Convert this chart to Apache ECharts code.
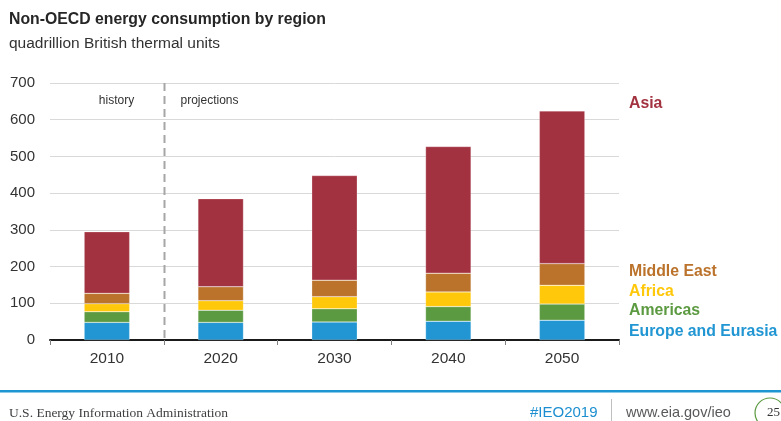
<!DOCTYPE html>
<html>
<head>
<meta charset="utf-8">
<script src="https://cdn.jsdelivr.net/npm/echarts@6/dist/echarts.min.js"></script>
<style>
html,body{margin:0;padding:0;background:#fff;}
#c{width:781px;height:421px;}
</style>
</head>
<body>
<div id="c"></div>
<script>
const categories = ['2010', '2020', '2030', '2040', '2050'];
const europeEurasia = [48, 48, 49, 51, 54];
const americas = [29, 33, 36, 40, 44];
const africa = [22, 26, 33, 40, 51];
const middleEast = [28, 38, 45, 51, 59];
const asia = [168, 240, 285, 345, 416];
const yTicks = [0, 100, 200, 300, 400, 500, 600, 700];

const seriesDefs = [
  { name: 'Europe and Eurasia', data: europeEurasia, color: '#2196d3', labelY: 332 },
  { name: 'Americas', data: americas, color: '#5c9a41', labelY: 311 },
  { name: 'Africa', data: africa, color: '#ffc80a', labelY: 292 },
  { name: 'Middle East', data: middleEast, color: '#bb722b', labelY: 272 },
  { name: 'Asia', data: asia, color: '#a33240', labelY: 104 }
];

const chart = echarts.init(document.getElementById('c'));
const FONT = '"Liberation Sans", Arial, sans-serif';

const baseGraphics = [
  { type: 'text', left: 9, top: 12, style: { text: 'Non-OECD energy consumption by region', font: 'bold 15.8px ' + FONT, fill: '#262626' } },
  { type: 'text', left: 9, top: 36, style: { text: 'quadrillion British thermal units', font: '15.5px ' + FONT, fill: '#333333' } },
  { type: 'rect', shape: { x: 0, y: 390, width: 781, height: 2.5 }, style: { fill: '#1d96d2' } },
  { type: 'text', x: 9, y: 413, style: { text: 'U.S. Energy Information Administration', font: '13.5px "Liberation Serif", "Times New Roman", serif', fill: '#404040', textVerticalAlign: 'middle' } },
  { type: 'text', x: 530, y: 413, style: { text: '#IEO2019', font: '15px ' + FONT, fill: '#1d8fd0', textVerticalAlign: 'middle' } },
  { type: 'line', shape: { x1: 611.5, y1: 399, x2: 611.5, y2: 421 }, style: { stroke: '#bfbfbf', lineWidth: 1 } },
  { type: 'text', x: 626, y: 413, style: { text: 'www.eia.gov/ieo', font: '14.5px ' + FONT, fill: '#595959', textVerticalAlign: 'middle' } },
  { type: 'circle', shape: { cx: 770, cy: 413, r: 15 }, style: { fill: 'none', stroke: '#5c9a41', lineWidth: 1.2 } },
  { type: 'text', x: 767, y: 413, style: { text: '25', font: '13px "Liberation Serif", serif', fill: '#333', textVerticalAlign: 'middle' } }
];

seriesDefs.forEach(s => {
  baseGraphics.push({ type: 'text', x: 629, y: s.labelY, style: { text: s.name, font: 'bold 15.8px ' + FONT, fill: s.color, textVerticalAlign: 'middle' } });
});

chart.setOption({
  animation: false,
  grid: { left: 50, right: 162, top: 83, bottom: 81 },
  xAxis: {
    type: 'category',
    data: categories,
    axisLine: { lineStyle: { color: '#1a1a1a', width: 2 } },
    axisTick: { show: true, length: 5, lineStyle: { color: '#808080', width: 1 } },
    axisLabel: { fontFamily: FONT, fontSize: 15.5, color: '#333', margin: 11 }
  },
  yAxis: {
    type: 'value', min: 0, max: 700, interval: 100,
    axisLine: { show: false }, axisTick: { show: false },
    axisLabel: { fontFamily: FONT, fontSize: 15, color: '#333', margin: 15,
      formatter: v => yTicks.includes(v) ? String(v) : '' },
    splitLine: { lineStyle: { color: '#d9d9d9', width: 1 } }
  },
  series: seriesDefs.map(s => ({
    name: s.name, type: 'bar', stack: 'total', data: s.data, barWidth: '40%',
    itemStyle: { color: s.color, borderColor: 'rgba(255,255,255,0.5)', borderWidth: 0.5 }
  })),
  graphic: baseGraphics
});

const x0 = chart.convertToPixel({ xAxisIndex: 0 }, categories[0]);
const x1 = chart.convertToPixel({ xAxisIndex: 0 }, categories[1]);
const dashX = Math.round((x0 + x1) / 2) + 0.5;
const yTop = chart.convertToPixel({ yAxisIndex: 0 }, 700);
const yBot = chart.convertToPixel({ yAxisIndex: 0 }, 0);
chart.setOption({
  graphic: baseGraphics.concat([
    { type: 'line', shape: { x1: dashX, y1: yTop, x2: dashX, y2: yBot }, style: { stroke: '#a6a6a6', lineWidth: 2, lineDash: [8, 5] }, z: 0 },
    { type: 'text', x: dashX - 48, y: 101, style: { text: 'history', font: '12px ' + FONT, fill: '#333', textAlign: 'center', textVerticalAlign: 'middle' } },
    { type: 'text', x: dashX + 16, y: 101, style: { text: 'projections', font: '12px ' + FONT, fill: '#333', textVerticalAlign: 'middle' } }
  ])
}, { replaceMerge: ['graphic'] });
</script>
</body>
</html>
